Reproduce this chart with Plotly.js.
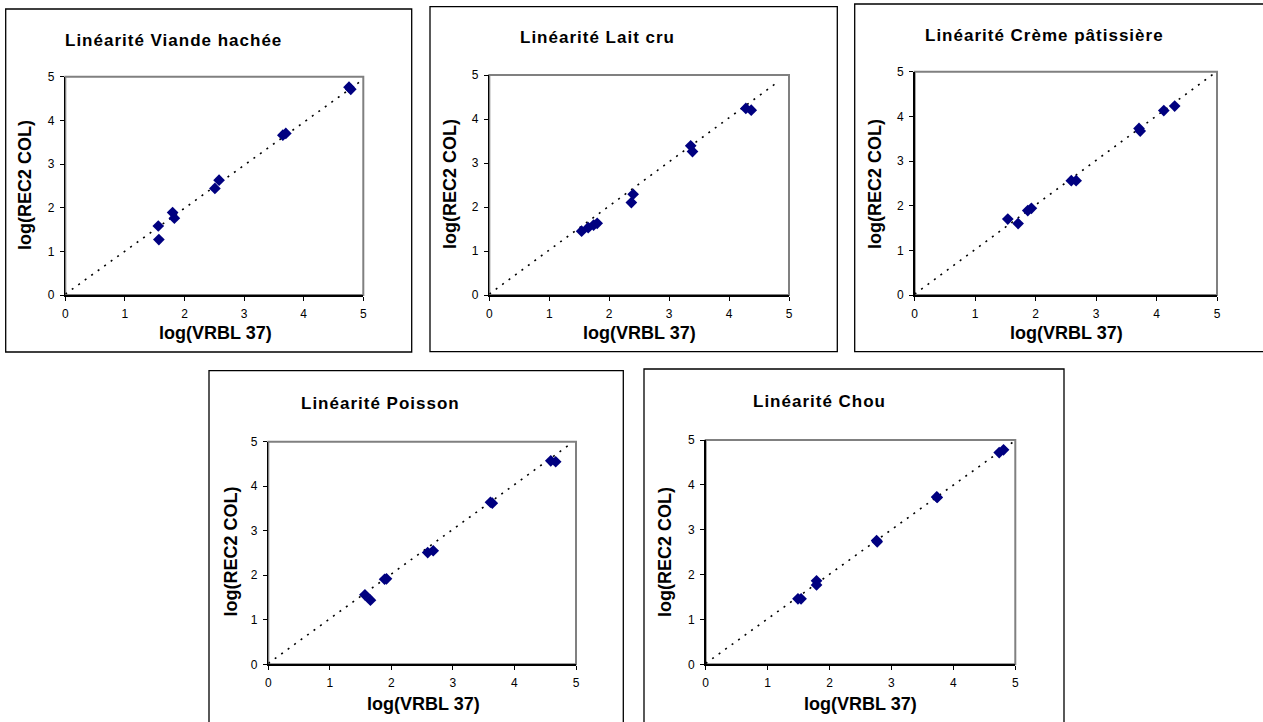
<!DOCTYPE html>
<html>
<head>
<meta charset="utf-8">
<script src="https://cdn.plot.ly/plotly-3.0.1.min.js"></script>
<style>
html,body{margin:0;padding:0;background:#fff;}
#chart{width:1263px;height:722px;}
</style>
</head>
<body>
<div id="chart"></div>
<script>
// ---- Data ----
const titles = ["Linéarité Viande hachée", "Linéarité Lait cru", "Linéarité Crème pâtissière", "Linéarité Poisson", "Linéarité Chou"];
const xTitle = "log(VRBL 37)";
const yTitle = "log(REC2 COL)";
const tickVals = [0, 1, 2, 3, 4, 5];

const vhX = [1.56, 1.57, 1.80, 1.83, 2.51, 2.58, 3.65, 3.70, 4.76, 4.79];
const vhY = [1.58, 1.27, 1.89, 1.76, 2.44, 2.63, 3.66, 3.70, 4.76, 4.71];

const lcX = [1.54, 1.65, 1.74, 1.80, 2.37, 2.40, 3.36, 3.39, 4.28, 4.37];
const lcY = [1.45, 1.53, 1.59, 1.63, 2.10, 2.29, 3.39, 3.26, 4.24, 4.20];

const cpX = [1.54, 1.71, 1.87, 1.93, 2.59, 2.67, 3.71, 3.73, 4.12, 4.30];
const cpY = [1.70, 1.60, 1.89, 1.94, 2.56, 2.56, 3.73, 3.67, 4.13, 4.23];

const poX = [1.57, 1.66, 1.89, 1.92, 2.59, 2.68, 3.61, 3.64, 4.59, 4.67];
const poY = [1.56, 1.44, 1.91, 1.92, 2.51, 2.55, 3.64, 3.62, 4.57, 4.55];

const chX = [1.49, 1.54, 1.79, 1.79, 2.76, 2.77, 3.73, 3.74, 4.74, 4.81];
const chY = [1.46, 1.46, 1.86, 1.77, 2.76, 2.73, 3.73, 3.72, 4.72, 4.78];

// trend-line end points
const trendX = [[0, 4.98], [0, 4.83], [0, 4.94], [0, 4.91], [0, 4.97]];
const trendY = [[0.02, 4.92], [0.02, 4.86], [0.02, 4.95], [0.02, 4.95], [0.02, 4.96]];

const seriesX = [vhX, lcX, cpX, poX, chX];
const seriesY = [vhY, lcY, cpY, poY, chY];

// ---- Layout geometry (pixels) ----
const W = 1263, H = 722;
const panels = [
  {plot:[65.3, 363.3, 76.7, 295], box:[5.7, 411.7, 9, 352], t:[173.5, 40], xt:[215.5, 333], yt:[25, 185]},
  {plot:[489.3, 789, 75, 295], box:[430, 837.3, 6.7, 351.7], t:[597.5, 38], xt:[639, 333], yt:[450, 184]},
  {plot:[914.7, 1217, 71.7, 295], box:[854.7, 1266, 4, 351.7], t:[1044.5, 36], xt:[1066.5, 333], yt:[875, 184]},
  {plot:[268.3, 576, 441.7, 664.3], box:[209, 623.3, 370.7, 726], t:[380, 403.5], xt:[423.5, 704], yt:[230, 551.5]},
  {plot:[705.7, 1015.3, 440, 664.3], box:[644, 1064, 369, 726], t:[819, 401.5], xt:[860, 704], yt:[665, 552]}
];
const px = v => v / W;
const py = v => 1 - v / H;

const FONT = "Liberation Sans, Arial, sans-serif";
const traces = [];
const layout = {
  width: W, height: H,
  margin: {l:0, r:0, t:0, b:0},
  paper_bgcolor: "#fff", plot_bgcolor: "#fff",
  showlegend: false,
  font: {family: FONT, color: "#000", size: 12},
  shapes: [], annotations: []
};

panels.forEach((p, i) => {
  const n = i === 0 ? "" : String(i + 1);
  const xa = "x" + n, ya = "y" + n;
  traces.push({
    type: "scatter", mode: "lines", x: trendX[i], y: trendY[i],
    xaxis: xa, yaxis: ya, hoverinfo: "skip",
    line: {color: "#000", width: 1.6, dash: "2px,6px"}
  });
  traces.push({
    type: "scatter", mode: "markers", x: seriesX[i], y: seriesY[i],
    xaxis: xa, yaxis: ya,
    marker: {symbol: "diamond", size: 9, color: "#000080", line: {width: 0}}
  });
  const axCommon = {
    range: [0, 5], tickvals: tickVals, ticktext: tickVals.map(String),
    showgrid: false, zeroline: false, showline: true, linecolor: "#000", linewidth: 1.5,
    ticks: "outside", ticklen: 4, tickwidth: 1, tickcolor: "#000",
    tickfont: {family: FONT, size: 12, color: "#000"}, fixedrange: true
  };
  layout["xaxis" + n] = Object.assign({}, axCommon, {
    domain: [px(p.plot[0]), px(p.plot[1])], anchor: ya, ticklabelstandoff: 3
  });
  layout["yaxis" + n] = Object.assign({}, axCommon, {
    domain: [py(p.plot[3]), py(p.plot[2])], anchor: xa, ticklabelstandoff: 3
  });
  // plot-area border (grey)
  layout.shapes.push({
    type: "rect", xref: xa + " domain", yref: ya + " domain", x0: 0, x1: 1, y0: 0, y1: 1,
    line: {color: "#808080", width: 2}, layer: "below"
  });
  // chart box
  layout.shapes.push({
    type: "rect", xref: "paper", yref: "paper",
    x0: px(p.box[0]), x1: px(p.box[1]), y0: py(p.box[3]), y1: py(p.box[2]),
    line: {color: "#000", width: 1.3}
  });
  layout.annotations.push({
    xref: "paper", yref: "paper", x: px(p.t[0]), y: py(p.t[1]),
    xanchor: "center", yanchor: "middle", showarrow: false,
    text: '<span style="letter-spacing:1px">' + titles[i] + '</span>',
    font: {family: FONT, size: 17, color: "#000", weight: "bold"}
  });
  layout.annotations.push({
    xref: "paper", yref: "paper", x: px(p.xt[0]), y: py(p.xt[1]),
    xanchor: "center", yanchor: "middle", showarrow: false,
    text: xTitle, font: {family: FONT, size: 18, color: "#000", weight: "bold"}
  });
  layout.annotations.push({
    xref: "paper", yref: "paper", x: px(p.yt[0]), y: py(p.yt[1]),
    xanchor: "center", yanchor: "middle", showarrow: false, textangle: -90,
    text: yTitle, font: {family: FONT, size: 18, color: "#000", weight: "bold"}
  });
});

Plotly.newPlot("chart", traces, layout, {staticPlot: true, displayModeBar: false});
</script>
</body>
</html>
